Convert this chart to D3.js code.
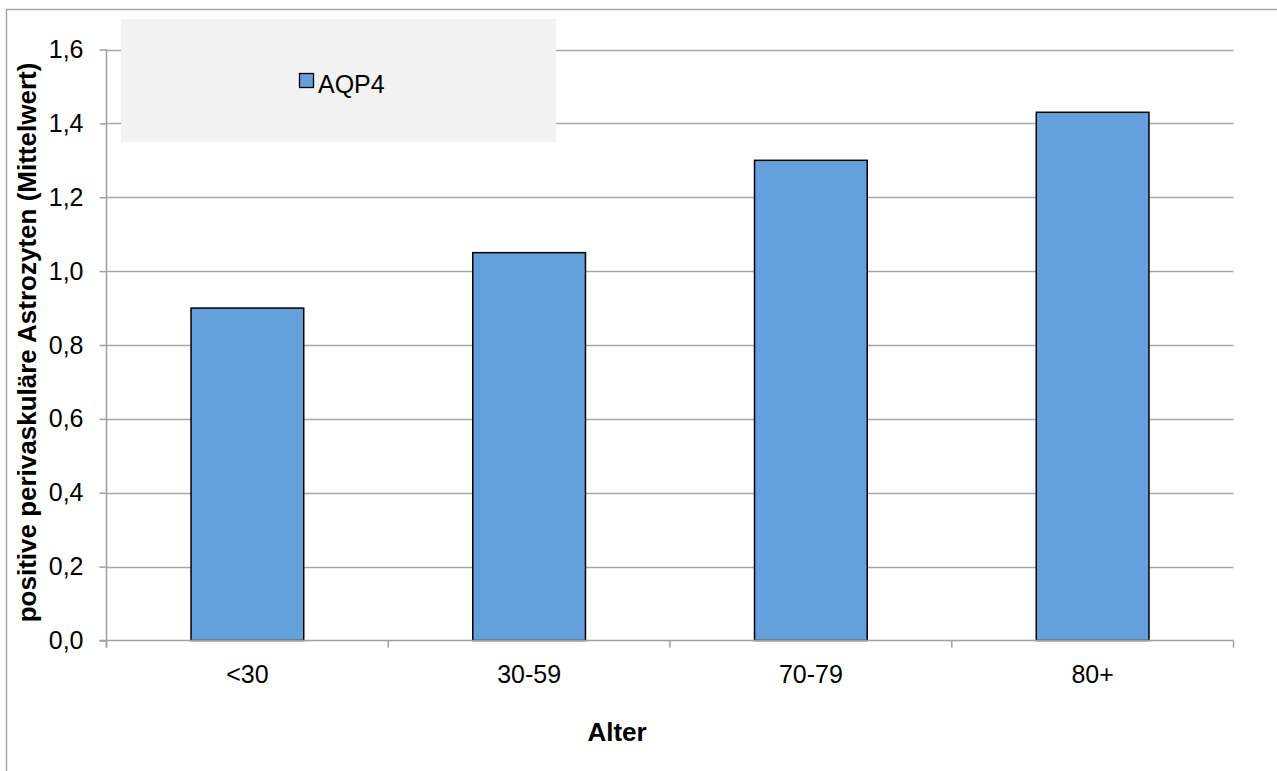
<!DOCTYPE html>
<html><head><meta charset="utf-8">
<script src="https://cdn.jsdelivr.net/npm/d3@7"></script>
<style>body{margin:0;background:#fff}svg{display:block;font-family:"Liberation Sans",Arial,sans-serif}</style>
</head><body>
<script>
const categories = ["<30", "30-59", "70-79", "80+"];
const values = [0.90, 1.05, 1.30, 1.43];
const yTicks = [0, 0.2, 0.4, 0.6, 0.8, 1.0, 1.2, 1.4, 1.6];
const seriesName = "AQP4";
const xTitle = "Alter";
const yTitle = "positive perivaskuläre Astrozyten (Mittelwert)";

(function () {
const W = 1277, H = 771;
const FS = 25, FT = 26;
const svg = d3.select("body").append("svg").attr("width", W).attr("height", H);
svg.append("rect").attr("width", W).attr("height", H).attr("fill", "#fff");
svg.append("rect").attr("x", 6.5).attr("y", 9.5).attr("width", W).attr("height", H)
  .attr("fill", "none").attr("stroke", "#a6a6a6").attr("stroke-width", 1.5);

const pL = 106.5, pR = 1233.5, pT = 49.5, pB = 640.5;
const x = d3.scaleBand().domain(categories).range([pL, pR]).paddingInner(0.6).paddingOuter(0.3);
const xs = d3.scaleBand().domain(categories).range([pL, pR]);
const y = d3.scaleLinear().domain([0, 1.6]).range([pB, pT]);

svg.append("g").selectAll("line").data(yTicks.filter(d => d > 0)).join("line")
  .attr("x1", pL).attr("x2", pR).attr("y1", d => Math.round(y(d)) + 0.5).attr("y2", d => Math.round(y(d)) + 0.5)
  .attr("stroke", "#a6a6a6").attr("stroke-width", 1.5);

svg.append("rect").attr("x", 121).attr("y", 19).attr("width", 435).attr("height", 123).attr("fill", "#f2f2f2");
svg.append("rect").attr("x", 299.5).attr("y", 73.5).attr("width", 14).attr("height", 14)
  .attr("fill", "#63a0dc").attr("stroke", "#000").attr("stroke-width", 1.3);
svg.append("text").attr("x", 318).attr("y", 92.5).attr("font-size", FS).attr("fill", "#000").text(seriesName);

svg.append("g").selectAll("rect").data(values).join("rect")
  .attr("x", (d, i) => x(categories[i]))
  .attr("y", d => y(d))
  .attr("width", x.bandwidth())
  .attr("height", d => y(0) - y(d))
  .attr("fill", "#63a0dc").attr("stroke", "#000").attr("stroke-width", 1.5);

const yAxis = d3.axisLeft(y).tickValues(yTicks).tickSize(7).tickPadding(16)
  .tickFormat(d => d3.format(".1f")(d).replace(".", ","));
const gy = svg.append("g").attr("transform", `translate(${pL},0)`).call(yAxis);
gy.select(".domain").remove();
gy.selectAll(".tick line").attr("stroke", "#a0a0a0").attr("stroke-width", 1.5);
gy.selectAll(".tick text").attr("font-size", FS).attr("fill", "#000").attr("font-family", "Liberation Sans, Arial, sans-serif");
svg.append("line").attr("x1", pL).attr("x2", pL).attr("y1", pT).attr("y2", pB + 7)
  .attr("stroke", "#a0a0a0").attr("stroke-width", 1.5);

const xAxis = d3.axisBottom(xs).tickSize(0).tickPadding(25);
const gx = svg.append("g").attr("transform", `translate(0,${pB})`).call(xAxis);
gx.select(".domain").remove();
gx.selectAll(".tick text").attr("font-size", FS).attr("fill", "#000").attr("font-family", "Liberation Sans, Arial, sans-serif");
svg.append("line").attr("x1", pL - 7).attr("x2", pR).attr("y1", pB).attr("y2", pB)
  .attr("stroke", "#a0a0a0").attr("stroke-width", 1.5);
const bounds = xs.domain().map(c => xs(c)).concat([pR]);
svg.append("g").selectAll("line").data(bounds).join("line")
  .attr("x1", d => d).attr("x2", d => d).attr("y1", pB).attr("y2", pB + 7)
  .attr("stroke", "#a0a0a0").attr("stroke-width", 1.5);

svg.append("text").attr("x", 617).attr("y", 741).attr("text-anchor", "middle")
  .attr("font-size", FT).attr("font-weight", "bold").text(xTitle);
svg.append("text").attr("transform", `translate(36,342.5) rotate(-90)`)
  .attr("text-anchor", "middle").attr("font-size", FT).attr("font-weight", "bold").text(yTitle);
})();
</script>
</body></html>
